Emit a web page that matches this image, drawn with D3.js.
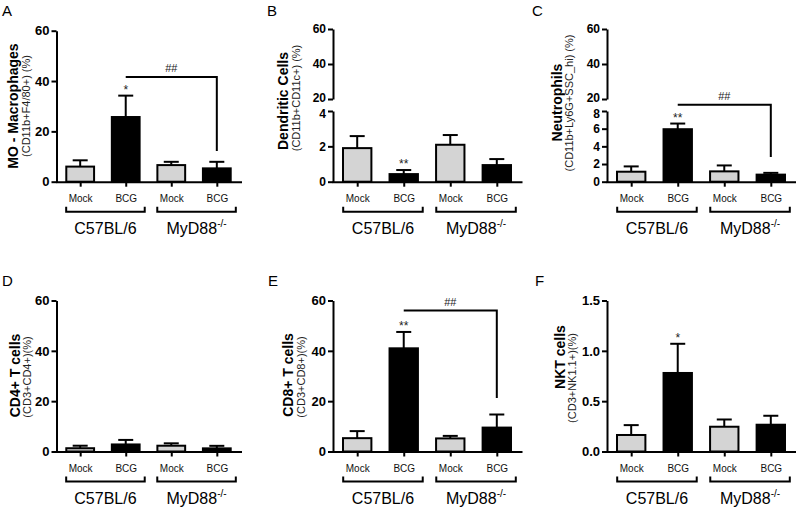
<!DOCTYPE html>
<html><head><meta charset="utf-8">
<script src="https://cdn.jsdelivr.net/npm/d3@7"></script>
<style>body{margin:0;background:#fff;} svg{display:block;font-family:Arial,"Liberation Sans",sans-serif;}</style>
</head><body><svg id="c" width="796" height="508"></svg>
<script>
// ---- data ----
const conditions = ["Mock", "BCG", "Mock", "BCG"];
const strains = ["C57BL/6", "MyD88"];
const strainSup = ["", "-/-"];
const panelLetters = ["A", "B", "C", "D", "E", "F"];
const titles = ["MO - Macrophages", "Dendritic Cells", "Neutrophils", "CD4+ T cells", "CD8+ T cells", "NKT cells"];
const subtitles = ["(CD11b+F4/80+) (%)", "(CD11b+CD11c+) (%)", "(CD11b+Ly6G+SSC_hi) (%)", "(CD3+CD4+)(%)", "(CD3+CD8+)(%)", "(CD3+NK1.1+)(%)"];

const macMean = [6.0, 25.7, 6.6, 5.3];
const macSem  = [2.5, 8.5, 1.3, 2.6];
const dcMean  = [1.9, 0.43, 2.09, 0.94];
const dcSem   = [0.68, 0.23, 0.55, 0.34];
const neuMean = [1.13, 5.94, 1.17, 0.8];
const neuSem  = [0.6, 0.64, 0.67, 0.2];
const cd4Mean = [1.3, 2.8, 2.3, 1.25];
const cd4Sem  = [1.0, 1.8, 0.95, 1.0];
const cd8Mean = [5.3, 41.0, 5.2, 9.5];
const cd8Sem  = [2.8, 6.5, 1.0, 5.2];
const nktMean = [0.164, 0.78, 0.246, 0.266];
const nktSem  = [0.098, 0.29, 0.072, 0.089];

const stars = [["", "*", "", ""], ["", "**", "", ""], ["", "**", "", ""], ["", "", "", ""], ["", "**", "", ""], ["", "*", "", ""]];
const hashLevel = [41.6, null, 8.7, null, 56, null];
const hashDrop  = [12.2, null, 2.8, null, 21.3, null];
const hashText  = "##";

const yMaxLower = [60, 4, 8, 60, 60, 1.5];
const yTicksLower = [[0, 20, 40, 60], [0, 2, 4], [0, 2, 4, 6, 8], [0, 20, 40, 60], [0, 20, 40, 60], [0, 0.5, 1.0, 1.5]];
const yTicksUpper = [null, [20, 40, 60], [20, 40, 60], null, null, null];
const yUpperDomain = [20, 60];
const yTickFormat = ["d", "d", "d", "d", "d", ".1f"];

const means = [macMean, dcMean, neuMean, cd4Mean, cd8Mean, nktMean];
const sems = [macSem, dcSem, neuSem, cd4Sem, cd8Sem, nktSem];
const barColor = ["#d4d4d4", "#000000", "#d4d4d4", "#000000"];

// ---- layout ----
const colAxisX = [56.5, 333, 607];
const colAxisEnd = [240.5, 521, 795];
const rowBase = [181.7, 451.5];
const letterX = [2, 267, 532, 2, 268, 535];
const letterY = [16, 16, 16, 286, 286, 286];
const titleX = [18, 288, 561.5, 19.5, 293, 564.5];
const titleCY = [106, 101, 102.5, 375.5, 375, 357];
const subCY = [106, 98, 103, 377, 377, 378];

const svg = d3.select("#c");
svg.append("rect").attr("width", 796).attr("height", 508).attr("fill", "#fff");

function styleAxis(g) {
  g.selectAll("path.domain").attr("stroke", "#000").attr("stroke-width", 2);
  g.selectAll(".tick line").attr("stroke", "#000").attr("stroke-width", 2);
}

panelLetters.forEach((L, i) => {
  const col = i % 3, row = Math.floor(i / 3);
  const ax = colAxisX[col], aend = colAxisEnd[col], base = rowBase[row];
  const g = svg.append("g");

  const x = d3.scalePoint().domain(d3.range(conditions.length)).range([ax, aend]).padding(0.52);
  const bw = x.step() * 0.61;

  let yLow, yUp = null;
  if (yTicksUpper[i]) {
    yLow = d3.scaleLinear().domain([0, yMaxLower[i]]).range([base, base - 70.7]);
    yUp = d3.scaleLinear().domain(yUpperDomain).range([base - 82.7, base - 152.7]);
  } else {
    yLow = d3.scaleLinear().domain([0, yMaxLower[i]]).range([base, base - 151]);
  }

  const m = means[i], s = sems[i];
  const data = d3.range(conditions.length).map(k => ({k, m: m[k], s: s[k]}));
  g.selectAll("line.err").data(data).enter().append("line")
    .attr("x1", d => x(d.k)).attr("x2", d => x(d.k))
    .attr("y1", d => yLow(d.m)).attr("y2", d => yLow(d.m + d.s))
    .attr("stroke", "#000").attr("stroke-width", 2);
  g.selectAll("line.cap").data(data).enter().append("line")
    .attr("x1", d => x(d.k) - 7.5).attr("x2", d => x(d.k) + 7.5)
    .attr("y1", d => yLow(d.m + d.s)).attr("y2", d => yLow(d.m + d.s))
    .attr("stroke", "#000").attr("stroke-width", 2);
  g.selectAll("rect.bar").data(data).enter().append("rect")
    .attr("x", d => x(d.k) - bw / 2).attr("width", bw)
    .attr("y", d => yLow(d.m)).attr("height", d => yLow(0) - yLow(d.m))
    .attr("fill", d => barColor[d.k]).attr("stroke", "#000").attr("stroke-width", 2);

  g.selectAll("text.star").data(data.filter(d => stars[i][d.k])).enter().append("text")
    .attr("x", d => x(d.k)).attr("y", d => yLow(d.m + d.s) - 2)
    .attr("text-anchor", "middle").attr("font-size", 12).attr("fill", "#222")
    .text(d => stars[i][d.k]);

  if (hashLevel[i] != null) {
    const yl = yLow(hashLevel[i]);
    g.append("path")
      .attr("d", `M${x(1)},${yl}H${x(3)}V${yLow(hashDrop[i])}`)
      .attr("fill", "none").attr("stroke", "#000").attr("stroke-width", 2);
    g.append("text").attr("x", (x(1) + x(3)) / 2).attr("y", yl - 5)
      .attr("text-anchor", "middle").attr("font-size", 11).attr("fill", "#222").text(hashText);
  }

  const fmt = d3.format(yTickFormat[i]);
  const axes = [];
  axes.push(g.append("g").attr("transform", `translate(${ax},0)`)
    .call(d3.axisLeft(yLow).tickValues(yTicksLower[i]).tickFormat(fmt).tickSize(5).tickSizeOuter(0).tickPadding(2)));
  if (yUp) {
    axes.push(g.append("g").attr("transform", `translate(${ax},0)`)
      .call(d3.axisLeft(yUp).tickValues(yTicksUpper[i]).tickFormat(fmt).tickSize(5).tickSizeOuter(0).tickPadding(2)));
  }
  axes.forEach((a, ai) => {
    styleAxis(a);
    const fs = yUp ? 12 : 13;
    a.selectAll(".tick text").attr("font-size", fs).attr("font-weight", "bold").attr("fill", "#000")
      .attr("font-family", "Arial, 'Liberation Sans', sans-serif");
    if (yUp) {
      // nudge the two labels meeting at the axis break apart slightly
      if (ai === 0) a.selectAll(".tick text").filter(v => v === yMaxLower[i]).attr("dy", "0.5em");
      if (ai === 1) a.selectAll(".tick text").filter(v => v === yUpperDomain[0]).attr("dy", "0.2em");
    }
  });

  const xAx = g.append("g").attr("transform", `translate(0,${base})`)
    .call(d3.axisBottom(x).tickFormat(k => conditions[k]).tickSize(5).tickSizeOuter(0).tickPadding(8.5));
  styleAxis(xAx);
  xAx.select("path.domain").attr("stroke-linecap", "square");
  xAx.selectAll(".tick text").attr("font-size", 10).attr("fill", "#111").attr("font-family", "Arial, 'Liberation Sans', sans-serif");

  [[0, 1], [2, 3]].forEach((pair, gi) => {
    const x0 = x(pair[0]) - 14, x1 = x(pair[1]) + 19, yb = base + 30;
    g.append("path").attr("d", `M${x0},${yb - 5}V${yb}H${x1}V${yb - 5}`)
      .attr("fill", "none").attr("stroke", "#000").attr("stroke-width", 2);
    const t = g.append("text").attr("x", (x0 + x1) / 2).attr("y", base + 52)
      .attr("text-anchor", "middle").attr("font-size", 16).attr("fill", "#000");
    t.append("tspan").text(strains[gi]);
    if (strainSup[gi]) t.append("tspan").attr("font-size", 10).attr("dy", -7).text(strainSup[gi]);
  });

  g.append("text").attr("transform", `translate(${titleX[i]},${titleCY[i]}) rotate(-90)`)
    .attr("text-anchor", "middle").attr("font-size", 14).attr("font-weight", "bold").attr("fill", "#000").text(titles[i]);
  g.append("text").attr("transform", `translate(${titleX[i] + 11.5},${subCY[i]}) rotate(-90)`)
    .attr("text-anchor", "middle").attr("font-size", 11).attr("fill", "#222").text(subtitles[i]);

  svg.append("text").attr("x", letterX[i]).attr("y", letterY[i]).attr("font-size", 15).attr("fill", "#000").text(L);
});
</script>
</body></html>
